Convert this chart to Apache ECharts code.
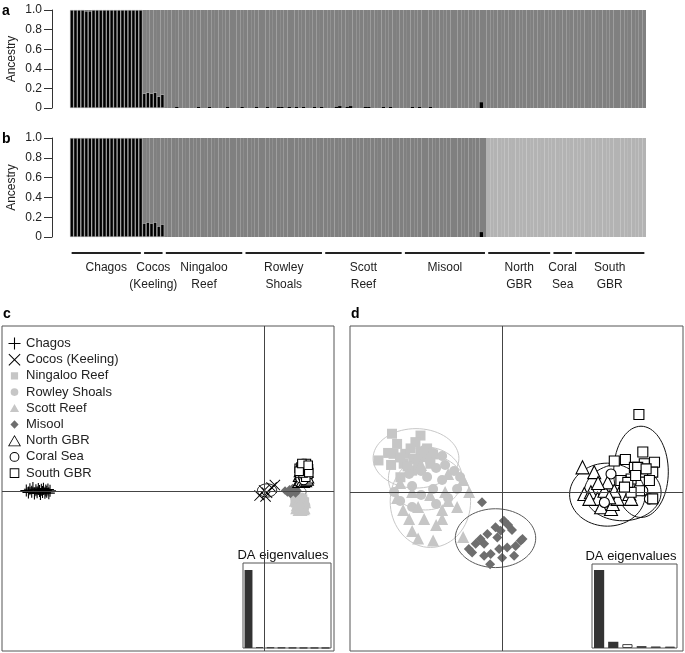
<!DOCTYPE html>
<html><head><meta charset="utf-8">
<script src="https://cdn.jsdelivr.net/npm/echarts@6/dist/echarts.min.js"></script>
<style>html,body{margin:0;padding:0;background:#fff}#c{width:685px;height:653px}</style>
</head><body><div id="c"></div><script>
const FONT = "'Liberation Sans', Arial, sans-serif";

// ---------- populations ----------
const populations = ['Chagos','Cocos (Keeling)','Ningaloo Reef','Rowley Shoals','Scott Reef','Misool','North GBR','Coral Sea','South GBR'];
const popAxisLabels = ['Chagos','Cocos\n(Keeling)','Ningaloo\nReef','Rowley\nShoals','Scott\nReef','Misool','North\nGBR','Coral\nSea','South\nGBR'];
const popSizes = [20,6,22,22,22,23,18,6,20];

// ---------- panel a: ancestry to black cluster (K=2) ----------
const aChagos   = [1,1,1,1,0.99,0.99,1,1,1,1,1,1,1,1,1,1,1,1,1,1];
const aCocos    = [0.15,0.16,0.15,0.16,0.12,0.14];
const aNingaloo = [0,0,0,0.01,0,0,0,0,0,0.01,0,0,0.01,0,0,0,0,0.01,0,0,0,0.01];
const aRowley   = [0,0,0,0.01,0,0,0.01,0,0,0.01,0.01,0,0.01,0,0.01,0,0.01,0,0,0.01,0,0.01];
const aScott    = [0,0,0,0.01,0.02,0,0.01,0.02,0,0,0,0.01,0.01,0,0,0,0.01,0,0.01,0,0,0];
const aMisool   = [0,0,0.01,0,0.01,0,0,0.01,0,0,0,0,0,0,0,0,0,0,0,0,0,0.06,0];
const aNorthGBR = [0,0,0,0,0,0,0,0,0,0,0,0,0,0,0,0,0,0];
const aCoralSea = [0,0,0,0,0,0];
const aSouthGBR = [0,0,0,0,0,0,0,0,0,0,0,0,0,0,0,0,0,0,0,0];

// ---------- panel b: K=3 ----------
const bBlackChagos = [1,1,1,1,1,1,1,1,1,1,1,1,1,1,1,1,1,1,1,1];
const bBlackCocos  = [0.14,0.15,0.14,0.15,0.11,0.13];
const bBlackMisool = [0,0,0,0,0,0,0,0,0,0,0,0,0,0,0,0,0,0,0,0,0,0.05,0];
const bLightByPop  = [0,0,0,0,0,0,1,1,1];

// ---------- panel c: DAPC all populations ----------
const chagosC = [[-7.92,0.02],[-7.85,-0.05],[-7.8,0.06],[-7.74,-0.02],[-7.7,0.1],[-7.65,-0.08],[-7.6,0.03],[-7.56,-0.04],[-7.52,0.07],[-7.48,0],[-7.45,-0.1],[-7.42,0.04],[-7.38,-0.03],[-7.35,0.08],[-7.3,-0.06],[-7.27,0.02],[-7.24,-0.02],[-7.2,0.05],[-7.17,-0.07],[-7.13,0.01]];
const cocosC = [[-0.15,-0.15],[0.0,0.02],[0.1,-0.06],[0.25,0.12],[0.36,0.2],[0.05,-0.18]];
const ningalooC = [[1.02,-0.15],[1.1,-0.25],[1.15,-0.2],[1.25,-0.3],[1.3,-0.25],[1.04,-0.4],[1.1,-0.45],[1.2,-0.5],[1.28,-0.4],[1.35,-0.5],[1.1,-0.58],[1.15,-0.6],[1.25,-0.56],[1.3,-0.6],[1.02,-0.3],[1.36,-0.35],[1.2,-0.35],[1.1,-0.3]];
const rowleyC = [[1.04,-0.2],[1.1,-0.15],[1.2,-0.25],[1.28,-0.2],[1.35,-0.3],[1.06,-0.35],[1.15,-0.4],[1.25,-0.45],[1.32,-0.4],[1.38,-0.45],[1.1,-0.52],[1.2,-0.58],[1.28,-0.52],[1.34,-0.58],[1.4,-0.48]];
const scottC = [[1.0,-0.35],[1.06,-0.5],[1.15,-0.55],[1.24,-0.64],[1.32,-0.58],[1.38,-0.6],[1.04,-0.6],[1.12,-0.66],[1.28,-0.66],[1.4,-0.4],[1.2,-0.45],[1.35,-0.64]];
const misoolC = [[0.7,0.02],[0.78,-0.05],[0.85,0.06],[0.92,-0.02],[1.0,0.08],[1.05,-0.08],[1.12,0.0],[0.95,0.1],[0.88,-0.1],[1.08,0.05]];
const ngbrC = [[1.14,0.3],[1.2,0.36],[1.26,0.33],[1.33,0.3],[1.4,0.33],[1.46,0.38],[1.16,0.5],[1.22,0.55],[1.3,0.5],[1.4,0.5],[1.47,0.45],[1.19,0.66],[1.26,0.7],[1.34,0.66],[1.45,0.64],[1.38,0.8],[1.23,0.82],[1.3,0.86]];
const coralC = [[1.2,0.42],[1.28,0.46],[1.36,0.42],[1.23,0.62],[1.4,0.6],[1.32,0.35]];
const sgbrC = [[1.17,0.76],[1.23,0.8],[1.3,0.85],[1.37,0.88],[1.44,0.82],[1.48,0.74],[1.43,0.69],[1.35,0.76],[1.26,0.64],[1.19,0.6],[1.46,0.56],[1.39,0.46],[1.3,0.6],[1.22,0.7],[1.33,0.9],[1.41,0.92],[1.49,0.62],[1.17,0.66],[1.26,0.92],[1.47,0.86]];
const ellipsesC = [
  ['Chagos', -7.52, 0, 0.42, 0.04],
  ['Cocos (Keeling)', 0.1, 0.02, 0.32, 0.22],
  ['Ningaloo Reef', 1.2, -0.38, 0.26, 0.26],
  ['Rowley Shoals', 1.22, -0.38, 0.24, 0.24],
  ['Scott Reef', 1.2, -0.52, 0.26, 0.2],
  ['Misool', 1.13, -0.03, 0.27, 0.2],
  ['North GBR', 1.3, 0.55, 0.22, 0.28],
  ['Coral Sea', 1.3, 0.5, 0.18, 0.16],
  ['South GBR', 1.33, 0.75, 0.2, 0.18]
];
const eigenC = [100, 1.2, 0.8, 0.5, 0.3, 0.2, 0.15, 0.1];
const eigenCRetained = 1;

// ---------- panel d: DAPC without Chagos & Cocos ----------
const ningalooD = [[-3.67,1.94],[-2.72,1.88],[-2.89,1.66],[-3.62,1.27],[-3.23,1.27],[-4.12,1.05],[-3.28,0.94],[-2.72,1.33],[-2.61,1.16],[-3.0,0.71],[-3.39,0.49],[-2.39,0.94],[-3.05,1.45],[-2.95,1.1],[-3.5,1.6],[-2.5,1.45],[-3.15,0.85],[-3.8,1.3],[-2.8,0.85],[-3.4,1.15],[-2.3,1.25],[-3.7,0.9]];
const rowleyD = [[-2.6,1.4],[-2.3,1.3],[-2.0,1.2],[-2.8,1.1],[-2.4,1.0],[-1.9,0.9],[-2.2,0.8],[-2.7,0.7],[-1.6,0.7],[-3.1,0.6],[-2.5,0.5],[-2.0,0.4],[-1.4,0.5],[-3.0,0.2],[-2.3,0.1],[-2.7,-0.1],[-3.4,-0.3],[-1.8,-0.2],[-2.2,-0.4],[-3.0,-0.5],[-3.6,0.0],[-1.5,0.1]];
const scottD = [[-2.7,0.9],[-1.8,0.6],[-1.3,0.4],[-1.1,0.0],[-3.4,0.3],[-3.0,0.0],[-2.4,-0.1],[-1.9,0.0],[-3.3,-0.6],[-2.8,-0.5],[-2.0,-0.6],[-1.5,-0.5],[-2.6,-0.9],[-3.1,-0.9],[-2.2,-1.1],[-1.3,-1.5],[-2.8,-1.55],[-3.0,-1.3],[-2.3,-1.62],[-1.8,-0.3],[-3.5,-0.2],[-2.0,-0.9]];
const misoolD = [[-0.67,-0.34],[0.06,-0.96],[-0.22,-1.18],[0.33,-1.27],[0.62,-1.63],[0.45,-1.8],[-1.11,-1.9],[-0.88,-1.73],[-0.6,-1.73],[-0.38,-2.07],[-0.1,-1.9],[0.17,-1.85],[-0.4,-2.41],[-0.72,-1.57],[-0.49,-1.4],[-0.16,-1.52],[-1.0,-2.02],[-0.6,-2.13],[-0.05,-1.29],[0.4,-2.13],[0.68,-1.57],[0.0,-2.19],[0.2,-1.1]];
const ngbrD = [[2.68,0.82],[3.07,0.66],[2.74,-0.07],[2.96,-0.01],[3.18,-0.23],[3.41,0.04],[3.52,0.32],[3.30,-0.51],[3.63,-0.57],[3.69,-0.40],[3.85,-0.23],[3.74,0.04],[4.24,-0.07],[4.30,-0.23],[2.91,-0.23],[3.57,-0.18],[4.03,0.21],[3.2,0.3]];
const coralD = [[3.63,0.60],[4.02,0.38],[4.30,0.16],[4.69,0.04],[4.91,-0.23],[3.41,-0.35]];
const sgbrD = [[4.56,2.58],[3.74,1.03],[4.11,1.08],[4.69,1.33],[5.08,0.99],[4.41,0.82],[4.74,0.94],[4.69,0.66],[5.02,0.66],[4.91,0.38],[4.30,0.43],[3.96,0.38],[4.58,0.04],[4.30,-0.01],[5.02,-0.23],[4.19,0.32],[4.52,0.82],[4.80,0.77],[4.08,0.16],[4.45,0.55]];
const ellipsesD = [
  ['Ningaloo Reef', -2.87, 1.12, 1.43, 0.99],
  ['Rowley Shoals', -2.56, 0.45, 1.23, 1.05],
  ['Scott Reef', -2.39, -0.32, 1.34, 1.53],
  ['Misool', -0.22, -1.54, 1.34, 0.98],
  ['North GBR', 3.51, -0.09, 1.26, 1.05],
  ['Coral Sea', 4.02, -0.01, 1.28, 0.95],
  ['South GBR', 4.63, 0.67, 0.91, 1.52]
];
const eigenD = [100, 8, 5, 2.5, 2, 1.8];
const eigenDRetained = 2;

// ---------- styles ----------
const LIGHT = '#c6c6c6', MID = '#6e6e6e', BLACK = '#000';
const PLUS = 'path://M0,4.55H10V5.45H0ZM4.55,0H5.45V10H4.55Z';
const CROSS = 'path://M0.6,0L5,4.4L9.4,0L10,0.6L5.6,5L10,9.4L9.4,10L5,5.6L0.6,10L0,9.4L4.4,5L0,0.6Z';
// legend icons: degenerate corner points keep the full 10x10 box so shapes stay small
const CORNERS = 'M0,0L0.01,0L0,0.01ZM10,10L9.99,10L10,9.99Z';
const L_SQUARE = 'path://' + CORNERS + 'M2,2H8V8H2Z';
const L_CIRCLE = 'path://' + CORNERS + 'M1.8,5A3.2,3.2 0 1,1 8.2,5A3.2,3.2 0 1,1 1.8,5Z';
const L_TRI = 'path://' + CORNERS + 'M5,1.4L8.8,8H1.2Z';
const L_DIAM = 'path://' + CORNERS + 'M5,1.4L8.4,5L5,8.6L1.6,5Z';
const L_OTRI = 'path://M5,0L10,8.7H0ZM5,1.2L1.05,8.05H8.95Z';
const L_OCIRC = 'path://' + CORNERS + 'M0.9,5A4.1,4.1 0 1,1 9.1,5A4.1,4.1 0 1,1 0.9,5ZM1.75,5A3.25,3.25 0 1,0 8.25,5A3.25,3.25 0 1,0 1.75,5Z';
const L_OSQ = 'path://' + CORNERS + 'M1,1H9V9H1ZM1.8,1.8V8.2H8.2V1.8Z';
const popStyle = {
  'Chagos':          {symbol: PLUS, size: 12, fill: BLACK, stroke: BLACK, bw: 0, legendIcon: PLUS, legendFill: BLACK},
  'Cocos (Keeling)': {symbol: CROSS, size: 11, fill: BLACK, stroke: BLACK, bw: 0, legendIcon: CROSS, legendFill: BLACK},
  'Ningaloo Reef':   {symbol: 'rect', size: 10, fill: LIGHT, stroke: LIGHT, bw: 0, legendIcon: L_SQUARE, legendFill: LIGHT},
  'Rowley Shoals':   {symbol: 'circle', size: 10, fill: LIGHT, stroke: LIGHT, bw: 0, legendIcon: L_CIRCLE, legendFill: LIGHT},
  'Scott Reef':      {symbol: 'triangle', size: 12, fill: LIGHT, stroke: LIGHT, bw: 0, legendIcon: L_TRI, legendFill: LIGHT},
  'Misool':          {symbol: 'diamond', size: 10, fill: MID, stroke: MID, bw: 0, legendIcon: L_DIAM, legendFill: MID},
  'North GBR':       {symbol: 'triangle', size: 13, fill: '#fff', stroke: BLACK, bw: 1.1, legendIcon: L_OTRI, legendFill: BLACK},
  'Coral Sea':       {symbol: 'circle', size: 10, fill: '#fff', stroke: BLACK, bw: 1.1, legendIcon: L_OCIRC, legendFill: BLACK},
  'South GBR':       {symbol: 'rect', size: 10, fill: '#fff', stroke: BLACK, bw: 1.1, legendIcon: L_OSQ, legendFill: BLACK}
};
const cSizeScale = 0.85;
const ellipseColor = {'Chagos':BLACK,'Cocos (Keeling)':BLACK,'Ningaloo Reef':'#c8c8c8','Rowley Shoals':'#c8c8c8','Scott Reef':'#c8c8c8','Misool':'#5a5a5a','North GBR':'#111','Coral Sea':'#111','South GBR':'#111'};

// ---------- build ----------
const aBlack = [].concat(aChagos,aCocos,aNingaloo,aRowley,aScott,aMisool,aNorthGBR,aCoralSea,aSouthGBR);
const N = aBlack.length;
const cats = aBlack.map((_, i) => String(i));
const bBlack = [];
const bLight = [];
popSizes.forEach((n, p) => {
  for (let k = 0; k < n; k++) {
    let v = 0;
    if (p === 0) v = bBlackChagos[k];
    else if (p === 1) v = bBlackCocos[k];
    else if (p === 5) v = bBlackMisool[k];
    bBlack.push(v);
    bLight.push(bLightByPop[p]);
  }
});
const bDark = bBlack.map((v, i) => +(1 - v - bLight[i]).toFixed(3));
const aGrey = aBlack.map(v => +(1 - v).toFixed(3));
const blackItems = arr => arr.map(v => v >= 0.1 ? {value: v, itemStyle: {borderColor: '#bdbdbd', borderWidth: 0.5}} : {value: v});

const popRanges = [];
{ let s = 0; popSizes.forEach((n, i) => { popRanges.push([s, s + n, i]); s += n; }); }

function scatterSeries(name, data, gi, scale) {
  const st = popStyle[name];
  return {
    type: 'scatter', name, xAxisIndex: gi, yAxisIndex: gi, data,
    symbol: st.symbol, symbolSize: st.size * (scale || 1), silent: true,
    itemStyle: {color: st.fill, borderColor: st.stroke, borderWidth: st.bw, opacity: 1},
    z: 3
  };
}
function ellipseSeries(list, gi) {
  return {
    type: 'custom', xAxisIndex: gi, yAxisIndex: gi, silent: true, z: 2,
    data: list.map(e => [e[1], e[2], e[3], e[4], populations.indexOf(e[0])]),
    encode: {x: 0, y: 1},
    renderItem: (params, api) => {
      const cx = api.value(0), cy = api.value(1), rx = api.value(2), ry = api.value(3);
      const pts = [];
      for (let k = 0; k < 72; k++) {
        const t = k / 72 * Math.PI * 2;
        pts.push(api.coord([cx + rx * Math.cos(t), cy + ry * Math.sin(t)]));
      }
      return {type: 'polygon', shape: {points: pts}, style: {fill: 'none', stroke: ellipseColor[populations[api.value(4)]], lineWidth: 1}};
    }
  };
}
function crossLines() {
  return {silent: true, symbol: 'none', label: {show: false}, lineStyle: {color: '#444', type: 'solid', width: 1}, data: [{xAxis: 0}, {yAxis: 0}]};
}
function eigenItems(arr, keep) {
  return arr.map((v, i) => ({value: v, itemStyle: i < keep ? {color: '#333'} : {color: '#fff', borderColor: '#444', borderWidth: 1}}));
}

const yAnc = gi => ({
  gridIndex: gi, type: 'value', min: 0, max: 1, interval: 0.2, offset: 18,
  axisLine: {show: true, lineStyle: {color: '#333'}},
  axisTick: {show: true, length: 8, lineStyle: {color: '#333'}},
  splitLine: {show: false},
  axisLabel: {formatter: v => v === 0 ? '0' : v.toFixed(1), color: '#222', fontSize: 12, margin: 10, fontFamily: FONT},
  name: 'Ancestry', nameLocation: 'middle', nameGap: 34, nameMoveOverlap: false,
  nameTextStyle: {fontSize: 12, color: '#222', fontFamily: FONT}
});
const hidden = (gi, type, extra) => Object.assign({gridIndex: gi, type, show: false, splitLine: {show: false}}, extra || {});
const G = o => Object.assign({containLabel: false, outerBoundsMode: 'none'}, o);

const option = {
  animation: false,
  backgroundColor: '#fff',
  textStyle: {fontFamily: FONT},
  grid: [
    G({left: 70, width: 576, top: 10, height: 98}),
    G({left: 70, width: 576, top: 138, height: 99}),
    G({left: 70, width: 576, top: 253, height: 30}),
    G({left: 2, width: 332, top: 326, height: 325, show: true, borderColor: '#555', borderWidth: 1}),
    G({left: 243, width: 88, top: 563, height: 85, show: true, borderColor: '#555', borderWidth: 1}),
    G({left: 350, width: 333, top: 326, height: 325, show: true, borderColor: '#555', borderWidth: 1}),
    G({left: 592, width: 85, top: 564, height: 84, show: true, borderColor: '#555', borderWidth: 1})
  ],
  xAxis: [
    hidden(0, 'category', {data: cats}),
    hidden(1, 'category', {data: cats}),
    hidden(2, 'value', {min: 0, max: N}),
    hidden(3, 'value', {min: -8.73, max: 2.33}),
    hidden(4, 'category', {data: eigenC.map((_, i) => String(i + 1))}),
    hidden(5, 'value', {min: -5.07, max: 6.03}),
    hidden(6, 'category', {data: eigenD.map((_, i) => String(i + 1))})
  ],
  yAxis: [
    yAnc(0), yAnc(1),
    hidden(2, 'value', {min: 0, max: 1}),
    hidden(3, 'value', {min: -5.33, max: 5.5}),
    hidden(4, 'value', {min: 0, max: 109}),
    hidden(5, 'value', {min: -5.3, max: 5.53}),
    hidden(6, 'value', {min: 0, max: 107.7})
  ],
  legend: {
    orient: 'vertical', left: 8, top: 337, padding: 0, itemWidth: 13, itemHeight: 12, itemGap: 3.2,
    selectedMode: false,
    data: populations.map(n => ({name: n, icon: popStyle[n].legendIcon, itemStyle: {color: popStyle[n].legendFill, borderWidth: 0, borderColor: 'transparent'}})),
    textStyle: {fontSize: 13, color: '#222', fontFamily: FONT}
  },
  series: [
    {type: 'bar', xAxisIndex: 0, yAxisIndex: 0, stack: 'a', data: blackItems(aBlack), itemStyle: {color: '#000'}, barCategoryGap: '0%', silent: true},
    {type: 'bar', xAxisIndex: 0, yAxisIndex: 0, stack: 'a', data: aGrey, itemStyle: {color: '#808080'}, barCategoryGap: '0%', silent: true},
    {type: 'bar', xAxisIndex: 1, yAxisIndex: 1, stack: 'b', data: blackItems(bBlack), itemStyle: {color: '#000'}, barCategoryGap: '0%', silent: true},
    {type: 'bar', xAxisIndex: 1, yAxisIndex: 1, stack: 'b', data: bDark, itemStyle: {color: '#808080'}, barCategoryGap: '0%', silent: true},
    {type: 'bar', xAxisIndex: 1, yAxisIndex: 1, stack: 'b', data: bLight, itemStyle: {color: '#b3b3b3'}, barCategoryGap: '0%', silent: true},
    {
      type: 'custom', xAxisIndex: 2, yAxisIndex: 2, silent: true, data: popRanges, encode: {x: [0, 1], y: 2},
      renderItem: (params, api) => {
        const s = api.value(0), e = api.value(1), i = api.value(2);
        const p1 = api.coord([s + 0.45, 1]), p2 = api.coord([e - 0.45, 1]);
        return {type: 'group', children: [
          {type: 'line', shape: {x1: p1[0], y1: p1[1], x2: p2[0], y2: p2[1]}, style: {stroke: '#222', lineWidth: 2}},
          {type: 'text', x: (p1[0] + p2[0]) / 2, y: p1[1] + 6, style: {text: popAxisLabels[i], textAlign: 'center', textVerticalAlign: 'top', fontSize: 12, lineHeight: 17, fill: '#222', fontFamily: FONT}}
        ]};
      }
    },
    // panel c
    ellipseSeries(ellipsesC, 3),
    Object.assign(scatterSeries('Chagos', chagosC, 3), {markLine: crossLines()}),
    scatterSeries('Cocos (Keeling)', cocosC, 3),
    scatterSeries('Ningaloo Reef', ningalooC, 3, cSizeScale),
    scatterSeries('Rowley Shoals', rowleyC, 3, cSizeScale),
    scatterSeries('Scott Reef', scottC, 3, cSizeScale),
    scatterSeries('Misool', misoolC, 3, cSizeScale),
    scatterSeries('North GBR', ngbrC, 3, cSizeScale),
    scatterSeries('Coral Sea', coralC, 3, cSizeScale),
    scatterSeries('South GBR', sgbrC, 3, cSizeScale),
    {type: 'bar', xAxisIndex: 4, yAxisIndex: 4, data: eigenItems(eigenC, eigenCRetained), barWidth: '72%', silent: true},
    // panel d
    ellipseSeries(ellipsesD, 5),
    Object.assign(scatterSeries('Ningaloo Reef', ningalooD, 5), {markLine: crossLines()}),
    scatterSeries('Rowley Shoals', rowleyD, 5),
    scatterSeries('Scott Reef', scottD, 5),
    scatterSeries('Misool', misoolD, 5),
    scatterSeries('North GBR', ngbrD, 5),
    scatterSeries('Coral Sea', coralD, 5),
    scatterSeries('South GBR', sgbrD, 5),
    {type: 'bar', xAxisIndex: 6, yAxisIndex: 6, data: eigenItems(eigenD, eigenDRetained), barWidth: '72%', silent: true}
  ],
  graphic: [
    {type: 'text', left: 2, top: 4, style: {text: 'a', fontSize: 14, fontWeight: 'bold', fill: '#000', fontFamily: FONT}},
    {type: 'text', left: 2, top: 132, style: {text: 'b', fontSize: 14, fontWeight: 'bold', fill: '#000', fontFamily: FONT}},
    {type: 'text', left: 3, top: 307, style: {text: 'c', fontSize: 14, fontWeight: 'bold', fill: '#000', fontFamily: FONT}},
    {type: 'text', left: 351, top: 307, style: {text: 'd', fontSize: 14, fontWeight: 'bold', fill: '#000', fontFamily: FONT}},
    {type: 'text', x: 283, y: 555, style: {text: 'DA eigenvalues', fontSize: 13, fill: '#111', textAlign: 'center', textVerticalAlign: 'middle', fontFamily: FONT}},
    {type: 'text', x: 631, y: 556, style: {text: 'DA eigenvalues', fontSize: 13, fill: '#111', textAlign: 'center', textVerticalAlign: 'middle', fontFamily: FONT}}
  ]
};
const chart = echarts.init(document.getElementById('c'), null, {renderer: 'canvas'});
chart.setOption(option);
</script></body></html>
